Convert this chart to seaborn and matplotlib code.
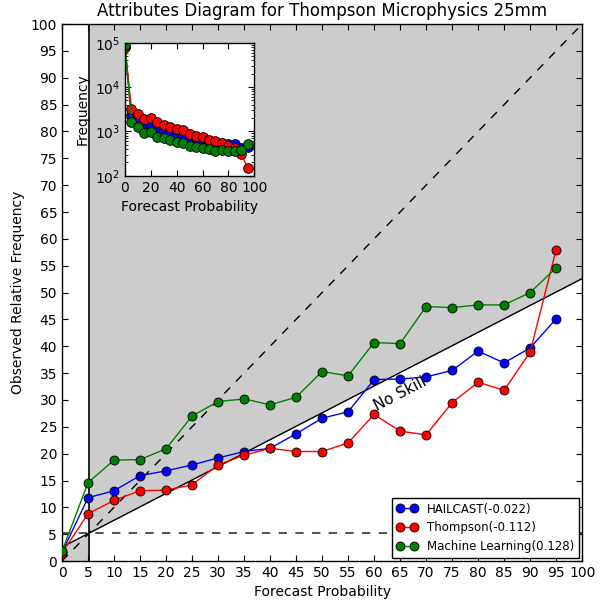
import numpy as np
import pandas as pd
import matplotlib
matplotlib.use("Agg")
import matplotlib.pyplot as plt
import seaborn as sns

# Forecast probability bins (%)
prob_bins = [0, 5, 10, 15, 20, 25, 30, 35, 40, 45, 50, 55, 60, 65, 70, 75, 80, 85, 90, 95]

# Observed relative frequency (%) per bin
hailcast_obs = [1.6, 11.8, 13.1, 15.9, 16.8, 17.9, 19.2, 20.4, 21.0, 23.7, 26.6, 27.8,
                33.8, 33.9, 34.3, 35.5, 39.1, 36.9, 39.7, 45.1]
thompson_obs = [1.5, 8.8, 11.3, 13.1, 13.2, 14.2, 17.9, 19.7, 21.0, 20.4, 20.4, 22.0,
                27.3, 24.2, 23.5, 29.5, 33.3, 31.8, 38.9, 58.0]
ml_obs = [1.8, 14.6, 18.8, 18.9, 20.9, 27.0, 29.7, 30.2, 29.1, 30.5, 35.3, 34.5,
          40.7, 40.5, 47.4, 47.2, 47.7, 47.7, 50.0, 54.6]

# Forecast counts per bin
hailcast_freq = [80000, 2290, 1930, 1440, 1340, 1190, 1090, 950, 840, 840, 760, 695,
                 630, 605, 555, 545, 525, 520, 415, 450]
thompson_freq = [80000, 3200, 2450, 1870, 2040, 1620, 1415, 1250, 1110, 1090, 885, 785,
                 760, 650, 605, 555, 460, 415, 310, 146]
ml_freq = [90000, 1620, 1250, 900, 965, 760, 695, 650, 575, 535, 475, 450,
           420, 400, 370, 380, 370, 355, 385, 520]

series_names = ["HAILCAST(-0.022)", "Thompson(-0.112)", "Machine Learning(0.128)"]
series_colors = ["blue", "red", "green"]
climatology = 5.2

rows = []
for name, obs, freq in zip(series_names,
                           [hailcast_obs, thompson_obs, ml_obs],
                           [hailcast_freq, thompson_freq, ml_freq]):
    for p, o, f in zip(prob_bins, obs, freq):
        rows.append({"model": name, "prob": p, "obs": o, "freq": f})
df = pd.DataFrame(rows)

plt.rcParams.update({
    "font.family": "DejaVu Sans",
    "font.size": 10,
    "xtick.direction": "in",
    "ytick.direction": "in",
    "xtick.top": True,
    "ytick.right": True,
    "xtick.major.size": 4,
    "ytick.major.size": 4,
    "xtick.minor.size": 2,
    "ytick.minor.size": 2,
    "axes.linewidth": 1.0,
    "lines.scale_dashes": False,
})

fig = plt.figure(figsize=(6.02, 6.02), dpi=100)
ax = fig.add_axes([0.103, 0.068, 0.864, 0.892])

# Skill region shading
x_hi = np.array([climatology, 100])
ax.fill_between(x_hi, (x_hi + climatology) / 2, 100, color="#cccccc", lw=0, zorder=0)
x_lo = np.array([0, climatology])
ax.fill_between(x_lo, 0, (x_lo + climatology) / 2, color="#cccccc", lw=0, zorder=0)

# Reference lines: perfect reliability, climatology, no skill
ax.plot([0, 100], [0, 100], color="k", lw=1, dashes=(6, 6), zorder=1)
ax.plot([0, 100], [climatology, climatology], color="#444444", lw=1.3,
        dashes=(6, 6), zorder=1)
ax.plot([0, 100], [climatology / 2, (100 + climatology) / 2], "k-", lw=1, zorder=1)
ax.axvline(climatology, color="k", lw=1.2, zorder=1)

sns.lineplot(data=df, x="prob", y="obs", hue="model", hue_order=series_names,
             palette=series_colors, marker="o", markersize=6.5, markeredgecolor="k",
             markeredgewidth=0.6, linewidth=1, ax=ax, zorder=3)

ang = np.degrees(np.arctan(0.5 * (0.892 / 0.864)))
ax.text(65, 31.2, "No Skill", rotation=ang, ha="center", va="center", fontsize=11)

ax.set_xlim(0, 100)
ax.set_ylim(0, 100)
ax.set_xticks(np.arange(0, 101, 5))
ax.set_yticks(np.arange(0, 101, 5))
ax.set_xlabel("Forecast Probability", fontsize=10)
ax.set_ylabel("Observed Relative Frequency", fontsize=10)
ax.set_title("Attributes Diagram for Thompson Microphysics 25mm", fontsize=12)

handles, labels = ax.get_legend_handles_labels()
leg = ax.legend(handles, labels, loc="lower right", fontsize=8.5, numpoints=2,
                fancybox=False, framealpha=1, edgecolor="k", borderaxespad=0.25,
                handlelength=1.8)
leg.get_frame().set_linewidth(1.0)

# Inset: forecast frequency histogram
ins = fig.add_axes([0.2076, 0.708, 0.2148, 0.221])
sns.lineplot(data=df, x="prob", y="freq", hue="model", hue_order=series_names,
             palette=series_colors, marker="o", markersize=7, markeredgecolor="k",
             markeredgewidth=0.6, linewidth=1, ax=ins, legend=False)
ins.set_yscale("log")
ins.set_ylim(100, 100000)
ins.set_xlim(0, 100)
ins.set_xticks(np.arange(0, 101, 20))
ins.set_xlabel("Forecast Probability", fontsize=10)
ins.set_ylabel("Frequency", fontsize=10)

fig.savefig("out.png", dpi=100)
